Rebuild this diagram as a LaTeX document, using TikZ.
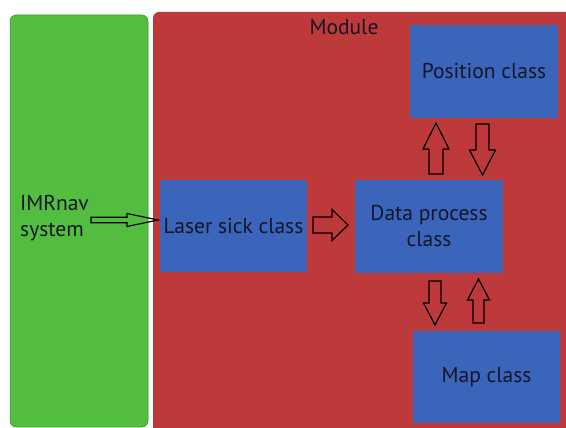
\documentclass[tikz,border=0pt]{standalone}
\usepackage{fontspec}
\setmainfont{PT Sans}
\definecolor{gfill}{RGB}{83,189,63}
\definecolor{rfill}{RGB}{190,57,58}
\definecolor{bfill}{RGB}{58,101,186}
\definecolor{txt}{RGB}{22,22,40}
\newcommand\harrow[6]{% x0, x1(tip), yc, shaft half, head half, head length (signed)
  \draw[blk] (#1,#3-#4) -- (#2-#6,#3-#4) -- (#2-#6,#3-#5) -- (#2,#3) -- (#2-#6,#3+#5) -- (#2-#6,#3+#4) -- (#1,#3+#4) -- cycle;}
\newcommand\varrow[6]{% xc, y0, y1(tip), shaft half, head half, head length (signed)
  \draw[blk] (#1-#4,#2) -- (#1-#4,#3-#6) -- (#1-#5,#3-#6) -- (#1,#3) -- (#1+#5,#3-#6) -- (#1+#4,#3-#6) -- (#1+#4,#2) -- cycle;}
\begin{document}
\begin{tikzpicture}[x=1pt,y=-1pt,
  box/.style={fill=bfill, minimum width=147pt, minimum height=92pt, inner sep=0pt, text=txt, font=\fontsize{21.5}{26}\selectfont, align=center},
  lbl/.style={text=txt, font=\fontsize{21.5}{26}\selectfont, inner sep=0pt},
  blk/.style={draw=black, line width=1.2pt, line join=miter}]
\useasboundingbox (0,0) rectangle (566,428);
\clip (0,0) rectangle (566,428);
\fill[white] (0,0) rectangle (566,428);
% panels
\draw[draw=gfill!75!black, line width=0.5pt, fill=gfill, rounded corners=6pt] (10,15) rectangle (148,427);
\fill[rfill, rounded corners=6pt] (153,12) rectangle (580,440);
\node[lbl] (module) at (344,27) {Module};
\node[lbl, anchor=west, align=left] (imr) at (20,218) {IMRnav\\system};
% boxes
\node[box] (laser) at (233.5,226) {Laser sick class};
\node[box, minimum width=148pt, minimum height=93pt] (data) at (429,226.5) {Data process\\class};
\node[box, minimum width=148pt, minimum height=93pt] (pos) at (484,71.5) {Position class};
\node[box] (map) at (486.5,377) {Map class};
% block arrows
\harrow{91}{158}{220}{2.7}{6.5}{31}
\harrow{313}{348}{225}{8}{15.5}{16}
\varrow{436}{174}{123}{7}{13}{-26}
\varrow{482.5}{124}{175}{6.5}{13}{25}
\varrow{435}{281}{325}{6}{11.5}{22}
\varrow{478.5}{323}{279}{5.5}{11}{-21}
\end{tikzpicture}
\end{document}
